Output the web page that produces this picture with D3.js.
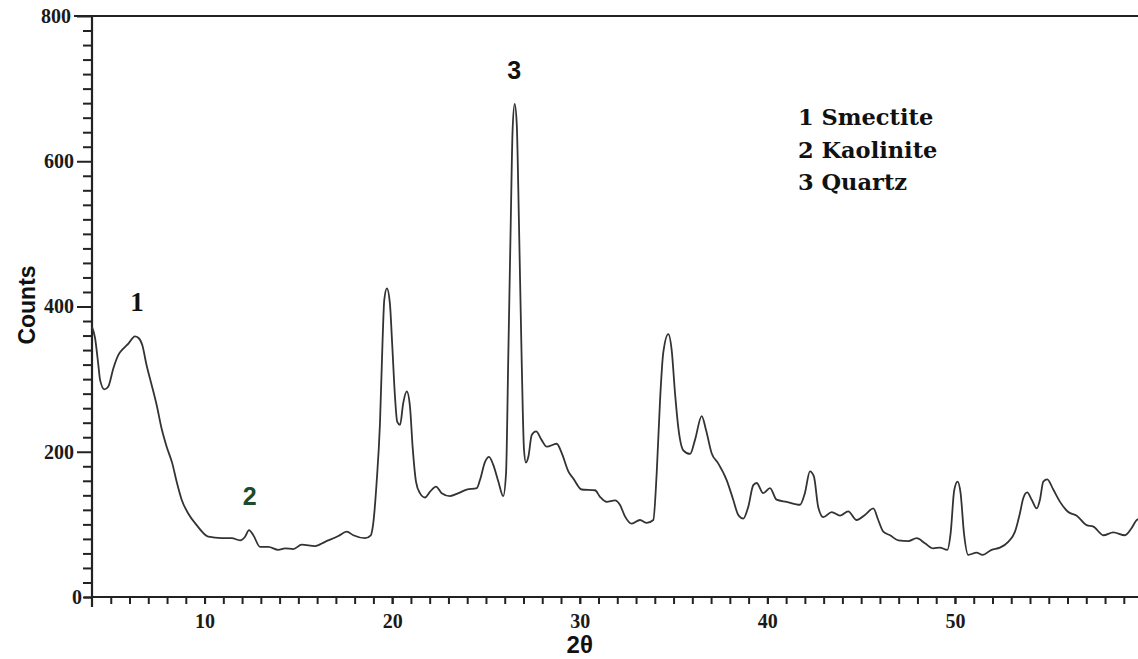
<!DOCTYPE html>
<html>
<head>
<meta charset="utf-8">
<script src="https://cdn.jsdelivr.net/npm/d3@7"></script>
<style>
	body { margin: 0; background: #fff; }
	.tick-label { font-family: "Liberation Serif", "Times New Roman", serif; font-weight: bold; font-size: 20px; fill: #1a1a1a; }
	.axis-title { font-family: "Liberation Sans", Arial, sans-serif; font-weight: bold; fill: #111; }
	.legend { font-family: "DejaVu Serif", serif; font-weight: bold; font-size: 22.5px; fill: #111; }
</style>
</head>
<body>
<div id="chart"></div>
<script>
// 2θ positions and counts
const theta = [4.0, 4.16, 4.34, 4.43, 4.66, 4.87, 5.14, 5.40, 5.67, 5.94, 6.29, 6.47, 6.68, 6.91, 7.18, 7.45, 7.71, 7.98, 8.28, 8.51,
	8.78, 9.13, 9.58, 10.2, 10.91, 11.45, 11.89, 12.16, 12.37, 12.6, 12.96, 13.4, 13.93, 14.29, 14.73, 15.18, 15.89, 16.42, 17.13, 17.58,
	17.93, 18.55, 18.86, 18.99, 19.17, 19.35, 19.49, 19.58, 19.72, 19.88, 20.0, 20.15, 20.27, 20.42, 20.59, 20.78, 20.95, 21.09, 21.27, 21.48,
	21.75, 22.02, 22.34, 22.64, 23.08, 23.53, 23.97, 24.51, 24.68, 24.95, 25.16, 25.39, 25.66, 25.92, 26.07, 26.19, 26.32, 26.42, 26.53, 26.64,
	26.76, 26.9, 27.03, 27.13, 27.26, 27.44, 27.67, 27.97, 28.24, 28.77, 29.04, 29.39, 29.66, 30.1, 30.81, 31.08, 31.43, 31.88, 32.14, 32.41,
	32.77, 33.21, 33.57, 33.92, 34.1, 34.28, 34.45, 34.72, 34.9, 35.08, 35.25, 35.52, 35.88, 36.14, 36.5, 36.73, 37.03, 37.38, 37.83, 38.18,
	38.45, 38.72, 38.98, 39.25, 39.43, 39.78, 40.14, 40.49, 41.03, 41.74, 42.0, 42.27, 42.48, 42.71, 42.98, 43.43, 43.87, 44.31, 44.76, 45.2,
	45.65, 45.91, 46.18, 46.54, 46.98, 47.51, 47.96, 48.4, 48.84, 49.2, 49.59, 49.77, 49.96, 50.14, 50.3, 50.48, 50.71, 51.15, 51.47, 51.95,
	52.4, 52.84, 53.2, 53.46, 53.64, 53.85, 54.09, 54.36, 54.53, 54.71, 54.92, 55.24, 55.6, 56.04, 56.49, 57.02, 57.38, 57.91, 58.44, 59.06,
	59.42, 59.69, 59.9];
const counts = [372, 357, 319, 299, 286, 290, 315, 333, 342, 349, 359, 357, 347, 319, 292, 264, 232, 207, 184, 159,
	134, 115, 99, 83, 81, 81, 78, 83, 92, 85, 69, 69, 65, 67, 66, 72, 70, 76, 84, 90,
	85, 81, 85, 101, 157, 239, 354, 409, 425, 404, 349, 276, 241, 237, 267, 283, 262, 207, 159, 143,
	137, 145, 152, 143, 139, 143, 148, 150, 161, 186, 193, 182, 159, 139, 170, 331, 514, 643, 679, 652,
	514, 331, 202, 185, 193, 223, 228, 216, 207, 211, 198, 173, 163, 148, 147, 138, 131, 133, 127, 111,
	101, 106, 102, 106, 170, 271, 336, 362, 340, 280, 234, 202, 197, 216, 249, 230, 198, 184, 161, 134,
	113, 108, 124, 154, 157, 143, 150, 134, 131, 127, 143, 173, 166, 124, 110, 117, 112, 118, 106, 113,
	122, 106, 90, 85, 78, 77, 81, 74, 67, 68, 65, 88, 147, 159, 143, 88, 58, 61, 58, 65,
	68, 76, 90, 115, 136, 144, 134, 122, 134, 159, 162, 148, 131, 117, 112, 99, 97, 85, 89, 85,
	95, 106, 108];

const xMajorTicks = [10, 20, 30, 40, 50];
const yMajorTicks = [0, 200, 400, 600, 800];

// peak markers and legend text
const peakLabels = [
	{ text: "1", at: 6.4, value: 359, family: "Liberation Serif", color: "#111" },
	{ text: "2", at: 12.4, value: 92, family: "Liberation Sans", color: "#1e4a2c" },
	{ text: "3", at: 26.5, value: 679, family: "Liberation Sans", color: "#111" }
];
const legendItems = ["1 Smectite", "2 Kaolinite", "3 Quartz"];

const width = 1138, height = 659;
const margin = { top: 16, left: 92, bottom: 62 };

const svg = d3.select("#chart")
	.append("svg")
	.attr("width", width)
	.attr("height", height);

const x = d3.scaleLinear().domain([4, 60]).range([margin.left, margin.left + 56 * 18.76]);
const y = d3.scaleLinear().domain([0, 800]).range([height - margin.bottom, margin.top]);

const axisColor = "#222";

// minor ticks
svg.append("g")
	.attr("transform", `translate(0, ${y(0)})`)
	.call(d3.axisBottom(x).tickValues(d3.range(5, 60)).tickSize(7).tickFormat(""))
	.call(g => g.select(".domain").remove())
	.call(g => g.selectAll("line").attr("stroke", axisColor).attr("stroke-width", 2));

svg.append("g")
	.attr("transform", `translate(${x(4)}, 0)`)
	.call(d3.axisLeft(y).tickValues(d3.range(0, 800, 20).filter(v => v % 200 !== 0 || v === 0)).tickSize(9).tickFormat(""))
	.call(g => g.select(".domain").remove())
	.call(g => g.selectAll("line").attr("stroke", axisColor).attr("stroke-width", 2));

// major ticks + labels
svg.append("g")
	.attr("transform", `translate(0, ${y(0)})`)
	.call(d3.axisBottom(x).tickValues(xMajorTicks).tickSize(7).tickPadding(10).tickFormat(d3.format("d")))
	.call(g => g.select(".domain").remove())
	.call(g => g.selectAll("line").attr("stroke", axisColor).attr("stroke-width", 2))
	.call(g => g.selectAll("text").attr("class", "tick-label").attr("font-size", null).attr("font-family", null));

svg.append("g")
	.attr("transform", `translate(${x(4)}, 0)`)
	.call(d3.axisLeft(y).tickValues(yMajorTicks).tickSize(15).tickPadding(3).tickFormat(d3.format("d")))
	.call(g => g.select(".domain").remove())
	.call(g => g.selectAll("line").attr("stroke", axisColor).attr("stroke-width", 2)
		.attr("x2", d => d === 0 ? -8 : -15))
	.call(g => g.selectAll("text").attr("class", "tick-label").attr("font-size", null).attr("font-family", null)
		.attr("x", d => d === 0 ? -10 : d === 800 ? -21 : -18));

// frame lines: left axis runs a little below the baseline, top line runs from the 800 label
svg.append("line")
	.attr("x1", x(4)).attr("x2", x(4))
	.attr("y1", y(800)).attr("y2", y(0) + 10)
	.attr("stroke", axisColor).attr("stroke-width", 2.2);
svg.append("line")
	.attr("x1", x(4)).attr("x2", width)
	.attr("y1", y(0)).attr("y2", y(0))
	.attr("stroke", axisColor).attr("stroke-width", 2.2);
svg.append("line")
	.attr("x1", x(4) - 18).attr("x2", width)
	.attr("y1", y(800)).attr("y2", y(800))
	.attr("stroke", axisColor).attr("stroke-width", 2.2);

// pattern
const line = d3.line()
	.x(d => x(d[0]))
	.y(d => y(d[1]))
	.curve(d3.curveMonotoneX);

svg.append("path")
	.datum(d3.zip(theta, counts))
	.attr("fill", "none")
	.attr("stroke", "#333")
	.attr("stroke-width", 1.8)
	.attr("stroke-linejoin", "round")
	.attr("d", line);

// peak numbers
svg.selectAll(".peak")
	.data(peakLabels)
	.enter()
	.append("text")
	.attr("class", "peak")
	.attr("x", d => x(d.at))
	.attr("y", d => y(d.value) - 25)
	.attr("text-anchor", "middle")
	.style("font-family", d => d.family)
	.style("font-weight", "bold")
	.style("font-size", d => d.text === "1" ? "27px" : "25px")
	.style("fill", d => d.color)
	.text(d => d.text);

// legend
svg.selectAll(".legend")
	.data(legendItems)
	.enter()
	.append("text")
	.attr("class", "legend")
	.attr("x", 798)
	.attr("y", (d, i) => 125 + i * 32.5)
	.text(d => d);

// axis titles
svg.append("text")
	.attr("class", "axis-title")
	.attr("x", x(30))
	.attr("y", 653)
	.attr("text-anchor", "middle")
	.style("font-size", "24px")
	.text("2θ");

svg.append("text")
	.attr("class", "axis-title")
	.attr("transform", "translate(35, 305) rotate(-90)")
	.attr("text-anchor", "middle")
	.style("font-size", "23px")
	.text("Counts");
</script>
</body>
</html>
